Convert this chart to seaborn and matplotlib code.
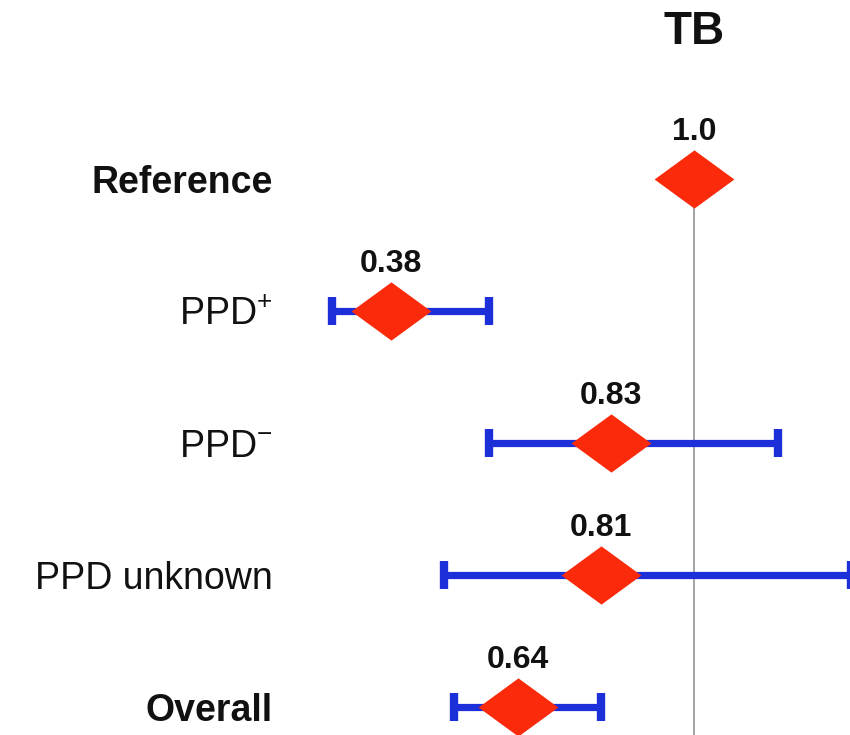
import numpy as np
import pandas as pd
import matplotlib
matplotlib.use("Agg")
import matplotlib.pyplot as plt
from matplotlib.path import Path
import seaborn as sns

# forest plot values
groups = ["Reference", "PPD$^{+}$", "PPD$^{-}$", "PPD unknown", "Overall"]
estimate = [1.0, 0.38, 0.83, 0.81, 0.64]
ci_low = [np.nan, 0.26, 0.58, 0.49, 0.51]
ci_high = [np.nan, 0.58, 1.17, 1.32, 0.81]
value_labels = ["1.0", "0.38", "0.83", "0.81", "0.64"]
bold_rows = ["Reference", "Overall"]

RED = "#fb2a0a"
BLUE = "#1c2fd8"

sns.set_style("white")
plt.rcParams["font.family"] = ["Liberation Sans", "DejaVu Sans"]
plt.rcParams["mathtext.fontset"] = "custom"
plt.rcParams["mathtext.rm"] = "Liberation Sans"
plt.rcParams["mathtext.it"] = "Liberation Sans"

df = pd.DataFrame({"group": groups, "est": estimate, "lo": ci_low, "hi": ci_high,
                   "label": value_labels})
df["row"] = np.arange(len(df))

fig = plt.figure(figsize=(8.5, 7.35), dpi=100)
ax = fig.add_axes([0.35, 0.0, 0.65, 1.0])

# reference line at 1.0, from the reference row down
ax.vlines(estimate[0], df["row"].iloc[0], 5, color="#8a8a8a", lw=1.1, zorder=1)

ci = df.dropna(subset=["lo", "hi"])
ax.errorbar(ci["est"], ci["row"], xerr=[ci["est"] - ci["lo"], ci["hi"] - ci["est"]],
            fmt="none", ecolor=BLUE, elinewidth=5.2, capsize=10, capthick=6, zorder=2)

diamond = Path([(-1, 0), (0, 0.73), (1, 0), (0, -0.73), (-1, 0)],
               [Path.MOVETO, Path.LINETO, Path.LINETO, Path.LINETO, Path.CLOSEPOLY])
sns.scatterplot(data=df, x="est", y="row", marker=diamond, s=3300, color=RED,
                linewidth=0, ax=ax, zorder=3, legend=False)

for _, r in df.iterrows():
    ax.annotate(r["label"], (r["est"], r["row"]), xytext=(0, 34), textcoords="offset points",
                ha="center", va="center", fontsize=23, fontweight="bold", color="#111111")

ax.text(estimate[0], 0.957, "TB", transform=ax.get_xaxis_transform(), ha="center",
        va="center", fontsize=33, fontweight="bold", color="#111111")

ax.set_xlim(0.19, 1.318)
ax.set_ylim(4.212, -1.356)
ax.set_yticks(df["row"])
ax.set_yticklabels(groups)
for t, g in zip(ax.get_yticklabels(), groups):
    t.set_fontsize(27)
    t.set_color("#111111")
    if g in bold_rows:
        t.set_fontweight("bold")
ax.tick_params(axis="y", length=0, pad=18)
ax.set_xticks([])
ax.set_xlabel("")
ax.set_ylabel("")
sns.despine(ax=ax, left=True, bottom=True)

fig.savefig("out.png", dpi=100)
